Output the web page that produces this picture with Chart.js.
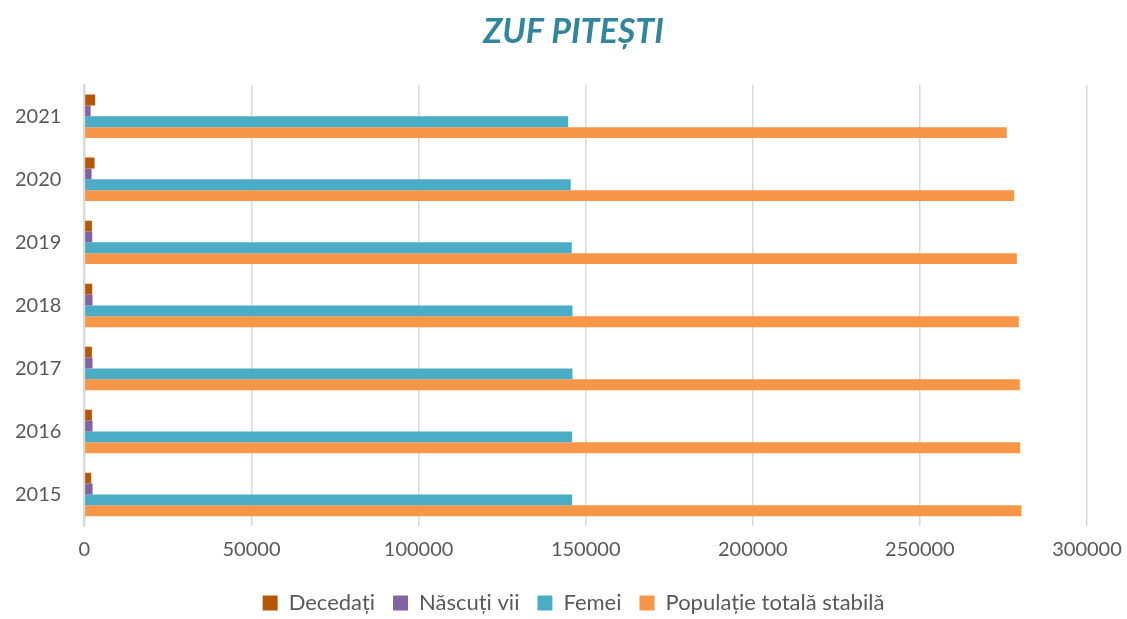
<!DOCTYPE html>
<html>
<head>
<meta charset="utf-8">
<script src="https://cdn.jsdelivr.net/npm/chart.js@4"></script>
<style>
  body { margin: 0; background: #fff; }
  #wrap { width: 1127px; height: 619px; position: relative; }
</style>
</head>
<body>
<div id="wrap"><canvas id="barChart"></canvas></div>
<script>
const years = ['2021', '2020', '2019', '2018', '2017', '2016', '2015'];
const decedati = [3230, 3040, 2240, 2340, 2240, 2240, 2040];
const nascuti = [1850, 2150, 2350, 2440, 2440, 2440, 2440];
const femei = [144750, 145530, 145840, 146040, 146040, 145940, 145940];
const populatie = [276000, 278200, 279000, 279600, 279900, 280000, 280400];

const textColor = '#595959';
const fontFamily = 'Lato, "Open Sans", sans-serif';

const ctx = document.getElementById('barChart').getContext('2d');
new Chart(ctx, {
    type: 'bar',
    data: {
        labels: years,
        datasets: [
            { label: 'Decedați', backgroundColor: '#B65708', data: decedati },
            { label: 'Născuți vii', backgroundColor: '#8064A2', data: nascuti },
            { label: 'Femei', backgroundColor: '#4BACC6', data: femei },
            { label: 'Populație totală stabilă', backgroundColor: '#F79646', data: populatie }
        ]
    },
    options: {
        indexAxis: 'y',
        responsive: true,
        maintainAspectRatio: false,
        animation: false,
        datasets: {
            bar: { categoryPercentage: 0.69, barPercentage: 1.0 }
        },
        layout: { padding: { left: 0, right: -20, top: 10, bottom: -5 } },
        plugins: {
            title: {
                display: true,
                text: 'ZUF PITEȘTI',
                color: '#31859C',
                font: { family: fontFamily, size: 34, weight: 'bold', style: 'italic' },
                padding: { top: 2, bottom: 32 }
            },
            legend: {
                position: 'bottom',
                labels: {
                    color: textColor,
                    font: { family: fontFamily, size: 22 },
                    boxWidth: 15,
                    boxHeight: 15,
                    padding: 18
                }
            },
            tooltip: { enabled: false }
        },
        scales: {
            x: {
                min: 0,
                max: 300000,
                ticks: {
                    stepSize: 50000,
                    color: textColor,
                    font: { family: fontFamily, size: 20 },
                    padding: 12,
                    callback: v => String(v)
                },
                grid: { color: '#D9D9D9', lineWidth: 1.5, drawTicks: false },
                border: { display: false },
                // fixed room on the right for the last tick label
                afterFit: s => { s.paddingRight = 40; }
            },
            y: {
                ticks: {
                    color: textColor,
                    font: { family: fontFamily, size: 20 },
                    padding: 15
                },
                grid: { display: false },
                border: { display: true, color: '#D9D9D9', width: 2 }
            }
        }
    }
});
</script>
</body>
</html>
